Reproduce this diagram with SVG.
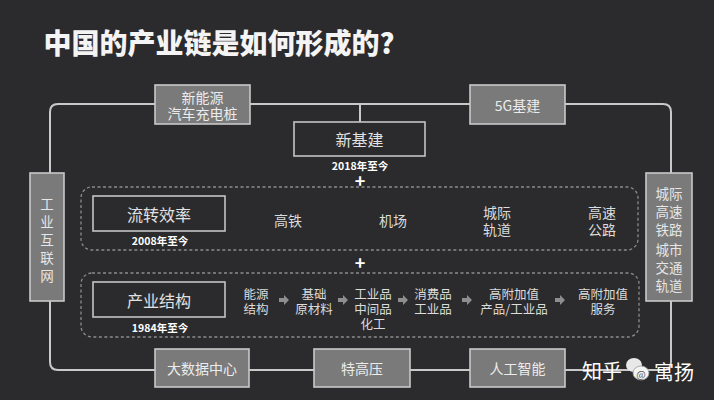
<svg xmlns="http://www.w3.org/2000/svg" width="714" height="400" viewBox="0 0 714 400">
<defs>
<style>
text{font-family:"Noto Sans CJK SC","Liberation Sans",sans-serif;text-anchor:middle;dominant-baseline:central}
.gbox{fill:#7a7a7a;stroke:#c9c9c9;stroke-width:1.6}
.obox{fill:none;stroke:#c4c4c4;stroke-width:1.6}
.dash{fill:none;stroke:#8c8c8c;stroke-width:1.3;stroke-dasharray:3 2.5}
.line{fill:none;stroke:#c9c9c9;stroke-width:2}
.gt{fill:#ececec;font-size:14px}
.lt{fill:#e2e2e2;font-size:16px}
.it{fill:#dcdcdc;font-size:14px}
.st{fill:#dcdcdc;font-size:12.5px}
.dt{fill:#ffffff;font-size:10.5px;font-weight:bold}
.plus{fill:#ffffff;font-size:18px;font-weight:bold}
.vt{fill:#e6e6e6;font-size:13.5px}
</style>
<path id="arr" d="M-5,-2 H0 V-5 L5,0 L0,5 V2 H-5 Z" fill="#8e8e8e"/>
</defs>
<rect width="714" height="400" fill="#2b2b2d"/>
<text x="219" y="42" fill="#f4f4f4" font-size="28" font-weight="900">中国的产业链是如何形成的?</text>

<g id="connectors">
<path class="line" d="M50,173 V112 Q50,104 58,104 H663 Q671,104 671,112 V173"/>
<path class="line" d="M50,301 V362 Q50,370 58,370 H663 Q671,370 671,362 V301"/>
<path class="line" d="M360,104 V122"/>
</g>

<g id="n_ev"><rect class="gbox" x="155" y="85" width="95" height="39"/><text class="gt" x="202.5" y="97">新能源</text><text class="gt" x="202.5" y="113">汽车充电桩</text></g>
<g id="n_5g"><rect class="gbox" x="470" y="85" width="95" height="39"/><text class="gt" x="517.5" y="104.5">5G基建</text></g>
<g id="n_xjj"><rect class="obox" x="294" y="122" width="131" height="34" fill="#2b2b2d"/><text class="lt" x="359.5" y="139">新基建</text><text class="dt" x="360" y="165">2018年至今</text></g>
<text class="plus" x="360" y="180">+</text>

<g id="row_flow">
<rect class="dash" x="81" y="187" width="557" height="63" rx="11"/>
<rect class="obox" x="93" y="196" width="132" height="35"/>
<text class="lt" x="159" y="213.5">流转效率</text>
<text class="dt" x="160" y="240">2008年至今</text>
<text class="it" x="288" y="220">高铁</text>
<text class="it" x="393" y="220">机场</text>
<text class="it" x="497" y="212">城际</text><text class="it" x="497" y="229">轨道</text>
<text class="it" x="602" y="212">高速</text><text class="it" x="602" y="229">公路</text>
</g>
<text class="plus" x="360" y="262">+</text>

<g id="row_struct">
<rect class="dash" x="81" y="273" width="558" height="64" rx="11"/>
<rect class="obox" x="93" y="282" width="132" height="35"/>
<text class="lt" x="159" y="299.5">产业结构</text>
<text class="dt" x="160" y="327">1984年至今</text>
<text class="st" x="256" y="293">能源</text><text class="st" x="256" y="308">结构</text>
<use href="#arr" x="284" y="300"/>
<text class="st" x="314" y="293">基础</text><text class="st" x="314" y="308">原材料</text>
<use href="#arr" x="343" y="300"/>
<text class="st" x="373" y="293">工业品</text><text class="st" x="373" y="308">中间品</text><text class="st" x="373" y="323">化工</text>
<use href="#arr" x="403" y="300"/>
<text class="st" x="433" y="293">消费品</text><text class="st" x="433" y="308">工业品</text>
<use href="#arr" x="467" y="300"/>
<text class="st" x="514" y="293">高附加值</text><text class="st" x="514" y="308">产品/工业品</text>
<use href="#arr" x="560" y="300"/>
<text class="st" x="603" y="293">高附加值</text><text class="st" x="603" y="308">服务</text>
</g>

<g id="n_iiot"><rect class="gbox" x="30" y="173" width="34" height="128"/>
<text class="vt" x="47" y="203">工</text><text class="vt" x="47" y="221">业</text><text class="vt" x="47" y="239">互</text><text class="vt" x="47" y="257">联</text><text class="vt" x="47" y="275">网</text></g>
<g id="n_rail"><rect class="gbox" x="646" y="173" width="46" height="128"/>
<text class="vt" x="669" y="193">城际</text><text class="vt" x="669" y="211">高速</text><text class="vt" x="669" y="229">铁路</text>
<text class="vt" x="669" y="249">城市</text><text class="vt" x="669" y="267">交通</text><text class="vt" x="669" y="285">轨道</text></g>

<g id="n_bigdata"><rect class="gbox" x="155" y="349" width="94" height="38"/><text class="gt" x="202" y="368">大数据中心</text></g>
<g id="n_uhv"><rect class="gbox" x="314" y="349" width="96" height="38"/><text class="gt" x="362" y="368">特高压</text></g>
<g id="n_ai"><rect class="gbox" x="470" y="349" width="95" height="38"/><text class="gt" x="517.5" y="368">人工智能</text></g>

<g id="watermark">
<text x="602" y="370" fill="#ffffff" font-size="20">知乎</text>
<ellipse cx="634" cy="365" rx="8" ry="7" fill="#e8e8e8"/>
<ellipse cx="641" cy="373" rx="8" ry="7" fill="#f4f4f4" stroke="#999" stroke-width="0.8"/>
<text x="641" y="373" fill="#555" font-size="10">@</text>
<text x="674" y="371" fill="#ffffff" font-size="20">寓扬</text>
</g>
</svg>
